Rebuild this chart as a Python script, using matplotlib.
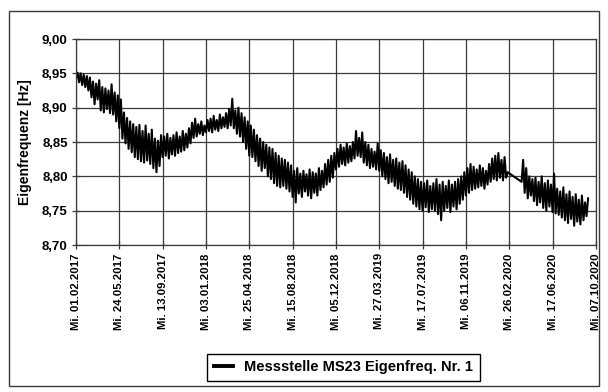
import matplotlib
matplotlib.use("Agg")
import matplotlib.pyplot as plt
import numpy as np
import pandas as pd

# sample grid: low value at day 8k, high value at day 8k+4 (None = data gap)
start_date = "2017-02-01"
lo_vals = [8.942, 8.937, 8.933, 8.930, 8.925, 8.915, 8.905, 8.912, 8.896, 8.893,
           8.898, 8.892, 8.890, 8.880, 8.870, 8.855, 8.848, 8.840, 8.835, 8.828,
           8.825, 8.822, 8.820, 8.823, 8.818, 8.812, 8.806, 8.815, 8.828, 8.830,
           8.826, 8.832, 8.830, 8.834, 8.836, 8.838, 8.842, 8.848, 8.856, 8.858,
           8.862, 8.860, 8.864, 8.866, 8.864, 8.868, 8.866, 8.870, 8.872, 8.870,
           8.874, 8.870, 8.862, 8.858, 8.850, 8.840, 8.830, 8.828, 8.822, 8.815,
           8.808, 8.812, 8.800, 8.796, 8.790, 8.786, 8.784, 8.786, 8.782, 8.778,
           8.770, 8.762, 8.775, 8.770, 8.778, 8.772, 8.768, 8.776, 8.772, 8.780,
           8.784, 8.788, 8.792, 8.798, 8.810, 8.814, 8.818, 8.816, 8.820, 8.822,
           8.826, 8.830, 8.828, 8.820, 8.816, 8.812, 8.814, 8.810, 8.808, 8.800,
           8.796, 8.790, 8.792, 8.786, 8.782, 8.780, 8.776, 8.770, 8.766, 8.760,
           8.756, 8.752, 8.750, 8.755, 8.748, 8.752, 8.750, 8.745, 8.736, 8.750,
           8.754, 8.748, 8.756, 8.752, 8.760, 8.766, 8.772, 8.776, 8.780, 8.782,
           8.784, 8.786, 8.782, 8.788, 8.792, 8.796, 8.794, 8.798, 8.794, 8.798,
           None, None, None, None, 8.792, 8.776, 8.768, 8.772, 8.764, 8.758,
           8.762, 8.754, 8.750, 8.756, 8.748, 8.746, 8.744, 8.740, 8.736, 8.732,
           8.738, 8.728, 8.734, 8.730, 8.736, 8.742]
hi_vals = [8.951, 8.950, 8.948, 8.946, 8.944, 8.938, 8.935, 8.940, 8.930, 8.928,
           8.925, 8.934, 8.922, 8.918, 8.912, 8.893, 8.885, 8.880, 8.876, 8.872,
           8.875, 8.866, 8.874, 8.862, 8.868, 8.855, 8.852, 8.860, 8.858, 8.862,
           8.856, 8.860, 8.864, 8.858, 8.866, 8.862, 8.870, 8.878, 8.884, 8.876,
           8.880, 8.874, 8.882, 8.884, 8.888, 8.882, 8.890, 8.886, 8.892, 8.898,
           8.913, 8.896, 8.900, 8.892, 8.886, 8.880, 8.874, 8.868, 8.860, 8.855,
           8.850, 8.846, 8.842, 8.840, 8.834, 8.830, 8.826, 8.824, 8.820, 8.816,
           8.808, 8.812, 8.804, 8.808, 8.803, 8.810, 8.806, 8.804, 8.812, 8.808,
           8.818, 8.824, 8.830, 8.834, 8.840, 8.846, 8.842, 8.848, 8.844, 8.850,
           8.866, 8.856, 8.864, 8.850, 8.846, 8.840, 8.836, 8.848, 8.838, 8.834,
           8.828, 8.832, 8.824, 8.826, 8.820, 8.822, 8.816, 8.810, 8.806, 8.800,
           8.796, 8.792, 8.790, 8.794, 8.786, 8.790, 8.796, 8.788, 8.792, 8.786,
           8.794, 8.788, 8.792, 8.796, 8.800, 8.806, 8.812, 8.818, 8.814, 8.810,
           8.816, 8.812, 8.808, 8.818, 8.826, 8.830, 8.834, 8.824, 8.828, 8.806,
           None, None, None, None, 8.824, 8.812, 8.800, 8.796, 8.798, 8.792,
           8.800, 8.790, 8.794, 8.788, 8.804, 8.782, 8.778, 8.784, 8.774, 8.778,
           8.770, 8.774, 8.766, 8.772, 8.762, 8.768]

tick_dates = ["01.02.2017", "24.05.2017", "13.09.2017", "03.01.2018", "25.04.2018",
              "15.08.2018", "05.12.2018", "27.03.2019", "17.07.2019", "06.11.2019",
              "26.02.2020", "17.06.2020", "07.10.2020"]
y_ticks = [8.70, 8.75, 8.80, 8.85, 8.90, 8.95, 9.00]
series_name = "Messstelle MS23 Eigenfreq. Nr. 1"

# interleave low/high samples into one time series
base = pd.date_range(start_date, periods=len(lo_vals), freq="8D")
dates, vals = [], []
for d, lo, hi in zip(base, lo_vals, hi_vals):
    if lo is None:
        continue
    dates += [d, d + pd.Timedelta(days=4)]
    vals += [lo, hi]

plt.rcParams['font.family'] = ['Liberation Sans', 'DejaVu Sans']
plt.rcParams['font.weight'] = 'bold'

fig = plt.figure(figsize=(6.08, 3.92), dpi=100)
ax = fig.add_axes([0.125, 0.375, 0.855, 0.5255])

ax.plot(dates, vals, color='black', lw=1.5, label=series_name)

ticks = [pd.to_datetime(t, format="%d.%m.%Y") for t in tick_dates]
ax.set_xlim(ticks[0], ticks[-1])
ax.set_xticks(ticks)
ax.set_xticklabels(["Mi. " + t for t in tick_dates], rotation=90, fontsize=8.2,
                   fontweight='bold')
ax.set_ylim(8.70, 9.00)
ax.set_yticks(y_ticks)
ax.set_yticklabels([f"{v:.2f}".replace(".", ",") for v in y_ticks], fontsize=9.5,
                   fontweight='bold')
ax.set_ylabel("Eigenfrequenz [Hz]", fontsize=10, fontweight='bold', labelpad=7)

ax.grid(True, color='#3a3a3a', lw=0.9)
ax.tick_params(direction='inout', length=6, width=0.9, color='#3a3a3a', pad=3)
for s in ax.spines.values():
    s.set_color('#3a3a3a')
    s.set_linewidth(0.9)

leg = fig.legend(loc='center', bbox_to_anchor=(0.565, 0.0625), fancybox=False,
                 edgecolor='black', framealpha=1, handlelength=1.3,
                 borderpad=0.45, prop={'weight': 'bold', 'size': 10.5})
leg.get_frame().set_linewidth(1.0)
for h in leg.get_lines():
    h.set_linewidth(2.8)

# outer frame round the figure
fig.patches.append(plt.Rectangle((0.0148, 0.015), 0.971, 0.957, transform=fig.transFigure,
                                 fill=False, edgecolor='#3a3a3a', lw=1.0))

fig.savefig("out.png", dpi=100)
